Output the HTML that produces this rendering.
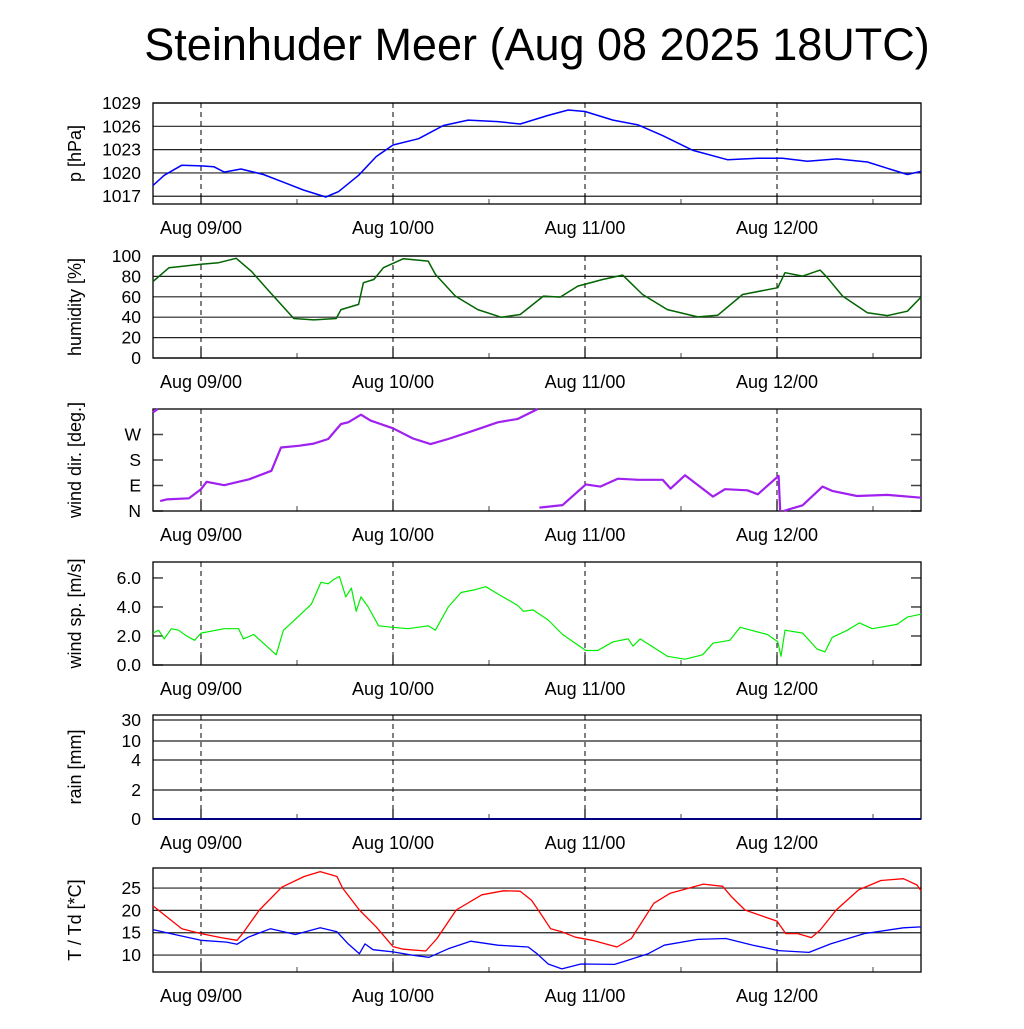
<!DOCTYPE html>
<html><head><meta charset="utf-8"><style>
html,body{margin:0;padding:0;background:#fff}
svg text{font-family:"Liberation Sans",sans-serif}
</style></head><body>
<svg id="chart" width="1024" height="1024" viewBox="0 0 1024 1024" xmlns="http://www.w3.org/2000/svg">
<rect width="1024" height="1024" fill="#fff"/>
<text x="537" y="60" font-size="45" text-anchor="middle">Steinhuder Meer (Aug 08 2025 18UTC)</text>
</svg>
<script>
// ---- data (hours since Aug 08 18UTC) ----
const dayLabels = ["Aug 09/00","Aug 10/00","Aug 11/00","Aug 12/00"];
const pTicks = [1017,1020,1023,1026,1029];
const hTicks = [0,20,40,60,80,100];
const dTicks = ["N","E","S","W"];
const wTicks = [0.0,2.0,4.0,6.0];
const rTicks = ["0","2","4","10","30"];
const tTicks = [10,15,20,25];

const pHours = [0,1.4,3.6,6,7.6,8.9,11,13.8,16.3,18.8,21.6,23.2,25.7,27.9,30,33.2,36.3,39.4,43.1,45.9,49.4,51.9,54,57.5,60.6,63.7,67.5,71.8,75.6,78.7,81.8,85.5,89.3,91.8,94.3,96];
const pVals = [1018.4,1019.7,1021.0,1020.9,1020.8,1020.1,1020.5,1019.8,1018.8,1017.8,1016.9,1017.6,1019.7,1022.1,1023.6,1024.4,1026.1,1026.8,1026.6,1026.3,1027.4,1028.1,1027.9,1026.8,1026.2,1024.8,1022.9,1021.7,1021.9,1021.9,1021.5,1021.8,1021.4,1020.6,1019.8,1020.2];

const hHours = [0,2,6,8.2,10.4,12.3,14.5,17.6,20.1,22.9,23.5,25.7,26.3,27.6,28.8,31.3,34.4,35.3,37.8,40.6,43.5,45.9,48.8,50.9,53.1,56.2,58.7,61.2,64.3,68.1,70.6,73.7,78.1,79,81.2,83.4,84.3,86.2,89.3,91.8,94.3,96];
const hVals = [75,88.5,92,93.4,97.7,85,65.6,38.7,37.4,38.7,47.5,52.5,73.8,77,88.5,97.4,95,82,60.7,47.5,40,42.6,60.7,59.7,70.5,77,81.3,62.3,47.5,40.3,42,62.3,68.9,83.6,80.3,86.2,78.7,60.7,44.3,41.6,45.9,59.7];

const dHours = [0,0.6,0.9,1.7,4.5,6,6.7,8.9,12,14.8,16,18.2,20.1,21.9,23.5,24.4,26,27.2,30,32.5,34.7,36.9,40,43.1,45.6,48.1,48.3,51.2,54.1,55.9,58.1,60.6,63.7,64.7,66.5,70,71.5,74.3,75.6,78.2,78.4,78.55,78.8,81.2,83.7,84.9,88,91.8,96];
const dVals = [348,360,35,41,45,77,103,91,112,142,224,230,238,254,307,313,340,319,292,256,236,254,283,313,325,360,12,21,94,86,114,110,110,79,126,51,77,73,59,124,0,360,0,20,86,71,53,57,47];

const wHours = [0,0.7,1.4,2.3,3.2,4.2,5.2,6,8.9,10.7,11.3,12.6,15.4,16.3,17.9,19.8,21,21.9,22.6,23.3,24.1,24.8,25.4,26,26.9,28.2,30,31.9,34.4,35.3,36.9,38.5,40.3,41.6,43.1,45.6,46.3,47.5,49.4,51.2,54.1,55.6,57.5,59.4,60,60.9,64.3,66.5,68.7,70,72.1,73.4,76.8,78.1,78.5,79,81.2,83,84,84.9,86.8,88.3,89.9,93,94.3,96];
const wVals = [2.2,2.4,1.8,2.5,2.4,2.0,1.7,2.2,2.5,2.5,1.8,2.1,0.7,2.4,3.2,4.2,5.7,5.6,5.9,6.1,4.7,5.3,3.7,4.7,4.0,2.7,2.6,2.5,2.7,2.4,4.0,5.0,5.2,5.4,4.9,4.1,3.7,3.8,3.1,2.1,1.0,1.0,1.6,1.8,1.3,1.8,0.6,0.4,0.7,1.5,1.7,2.6,2.1,1.6,0.6,2.4,2.2,1.1,0.9,1.9,2.4,2.9,2.5,2.8,3.3,3.5];

const rHours = [0,96];
const rVals = [0,0];

const tHours = [0,1.2,3.6,6,8.5,10.5,11.2,13.3,16.1,18.9,20.9,23,23.7,25.8,27.9,30,31.3,34.1,35.5,37.9,41.1,43.8,45.9,47.3,48.3,49.7,51.1,52.8,54.9,58,59.8,62.6,64.6,68.8,71.2,72.3,74,76.4,78,79.1,80.6,82.3,83.4,85.4,88.2,91,93.8,95.5,96];
const tVals = [21,19.3,15.9,14.8,13.9,13.3,14.8,20.1,25.2,27.6,28.7,27.6,25,20.1,16.3,11.9,11.3,10.9,13.7,20.1,23.5,24.4,24.3,22.3,19.7,15.9,15.2,14,13.3,11.8,13.7,21.6,23.8,25.9,25.4,23.1,20.1,18.6,17.6,14.8,14.8,13.9,15.6,20.1,24.6,26.7,27.1,25.7,24.4];
const tdHours = [0,2.2,6,9.2,10.5,11.9,14.7,17.8,20.9,23,24.4,25.8,26.5,27.5,30,32.7,34.5,36.9,39.7,43.1,46.9,48,49.4,51.1,53.5,57.7,59.8,61.9,63.9,68.1,71.6,75,78.2,82,84.7,88.9,93.8,96];
const tdVals = [15.7,14.8,13.3,12.9,12.4,14,15.9,14.6,16.1,15.2,12.5,10.3,12.5,11.2,10.7,9.9,9.5,11.4,13.1,12.2,11.8,10.3,8,6.9,8,7.9,9.1,10.3,12.2,13.5,13.7,12.2,11,10.6,12.5,14.8,16.1,16.3];

// ---- layout ----
const NS = "http://www.w3.org/2000/svg";
const svg = document.getElementById("chart");
const X0 = 153, X1 = 921, HMAX = 96;
const xs = h => X0 + (X1 - X0) * h / HMAX;
function el(tag, attrs, parent) {
  const e = document.createElementNS(NS, tag);
  for (const k in attrs) e.setAttribute(k, attrs[k]);
  (parent || svg).appendChild(e);
  return e;
}
function panel(name, top, bot, yfun, ticks, tickLabels, gridOn, title) {
  const g = el("g", {});
  
  
  ticks.forEach((v, i) => {
    const y = yfun(v);
    if (gridOn) {
      const ln = el("line", {x1: X0, x2: X1, y1: y, y2: y, stroke: "#222", "stroke-width": 1.2}, g);
      
      
    } else {
      el("line", {x1: X0, x2: X0 + 10, y1: y, y2: y, stroke: "#444", "stroke-width": 1.5}, g);
      el("line", {x1: X1 - 10, x2: X1, y1: y, y2: y, stroke: "#444", "stroke-width": 1.5}, g);
    }
    const t = el("text", {x: 141, y: y + 6, "font-size": 17.5, "text-anchor": "end"}, g);
    
    
    t.textContent = tickLabels[i];
  });
  for (let d = 0; d < 4; d++) {
    const x = xs(6 + 24 * d);
    const dl = el("line", {x1: x, x2: x, y1: top, y2: bot, stroke: "#000", "stroke-width": 1, "stroke-dasharray": "5,4"}, g);
    
    
    el("line", {x1: x, x2: x, y1: bot - 10, y2: bot, stroke: "#000", "stroke-width": 1.2}, g);
    const mx = xs(18 + 24 * d);
    el("line", {x1: mx, x2: mx, y1: bot - 5, y2: bot, stroke: "#444", "stroke-width": 1}, g);
    const lt = el("text", {x: x, y: bot + 30, "font-size": 18, "text-anchor": "middle"}, g);
    
    
    lt.textContent = dayLabels[d];
  }
  const fr = el("rect", {x: X0, y: top, width: X1 - X0, height: bot - top, fill: "none", stroke: "#000", "stroke-width": 1.3}, g);
  
  
  const cy = (top + bot) / 2;
  const tt = el("text", {x: 0, y: 0, "font-size": 18, "text-anchor": "middle", transform: `translate(81,${cy}) rotate(-90)`}, g);
  
  
  tt.textContent = title;
  return g;
}
function series(name, hours, vals, yfun, color, width, wrap) {
  let d = "", prev = null;
  hours.forEach((h, i) => {
    const v = vals[i];
    const brk = prev === null || (wrap && Math.abs(v - prev) > 180);
    d += (brk ? "M" : "L") + xs(h).toFixed(1) + "," + yfun(v).toFixed(1);
    prev = v;
  });
  const p = el("path", {d: d, fill: "none", stroke: color, "stroke-width": width, "stroke-linejoin": "round"});
  
  
}
function lin(top, bot, vmin, vmax) { return v => bot - (v - vmin) / (vmax - vmin) * (bot - top); }

const yP = lin(103, 204, 1016, 1029);
panel("pressure", 103, 204, yP, pTicks, pTicks.map(String), true, "p [hPa]");
series("pressure-line", pHours, pVals, yP, "#0000ff", 1.5, false);

const yH = lin(256, 358, 0, 100);
panel("humidity", 256, 358, yH, hTicks, hTicks.map(String), true, "humidity [%]");
series("humidity-line", hHours, hVals, yH, "#006400", 1.5, false);

const yD = lin(409, 511, 0, 360);
panel("wind-direction", 409, 511, yD, [0, 90, 180, 270], dTicks, false, "wind dir. [deg.]");
series("wind-direction-line", dHours, dVals, yD, "#a020f0", 2.2, true);

const yW = lin(562, 665, 0, 7.1);
panel("wind-speed", 562, 665, yW, wTicks, wTicks.map(v => v.toFixed(1)), false, "wind sp. [m/s]");
series("wind-speed-line", wHours, wVals, yW, "#00ee00", 1.2, false);

const rPos = {"0": 819, "2": 790, "4": 760, "10": 741, "30": 720};
const yR = v => rPos[String(v)] !== undefined ? rPos[String(v)] : 819;
panel("rain", 715, 819, yR, rTicks, rTicks, true, "rain [mm]");
series("rain-line", rHours, rVals, yR, "#000080", 2, false);

const yT = lin(868, 972, 6.2, 29.5);
panel("temperature", 868, 972, yT, tTicks, tTicks.map(String), true, "T / Td [*C]");
series("temperature-line", tHours, tVals, yT, "#ff0000", 1.3, false);
series("dewpoint-line", tdHours, tdVals, yT, "#0000ff", 1.3, false);
</script>
</body></html>
